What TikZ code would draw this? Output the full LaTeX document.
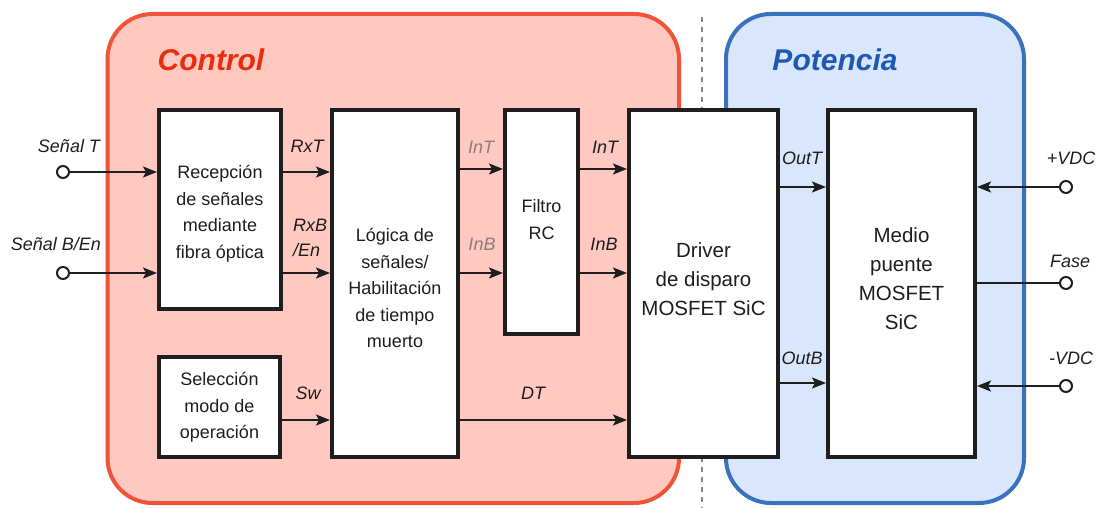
\documentclass[tikz,border=0pt]{standalone}
\usepackage{fontspec}
\setmainfont{Liberation Sans}
\usetikzlibrary{arrows.meta,calc}
\definecolor{ctrlfill}{HTML}{FFC9C2}
\definecolor{ctrldraw}{HTML}{EE5538}
\definecolor{ctrltext}{HTML}{E62E0A}
\definecolor{potfill}{HTML}{DAE6FC}
\definecolor{potdraw}{HTML}{3A72BF}
\definecolor{pottext}{HTML}{1D5BB3}
\definecolor{ink}{HTML}{1E1E1E}
\definecolor{dimtext}{HTML}{8A7E7C}
\definecolor{dashgray}{HTML}{858585}
\newcommand{\boxtext}[2]{\raisebox{#1}[0pt][0pt]{\begin{tabular}{@{}c@{}}#2\end{tabular}}}
\begin{document}
\begin{tikzpicture}[x=1pt,y=-1pt,
 blockbox/.style={draw=ink,fill=white,line width=4pt,inner sep=0pt,align=center,font=\fontsize{18}{26.5}\selectfont,text=ink},
 bigtext/.style={font=\fontsize{20.5}{29}\selectfont},
 sig/.style={font=\itshape\fontsize{18}{25}\selectfont,text=ink,inner sep=0pt},
 wire/.style={draw=ink,line width=2pt,-{Stealth[length=14pt,width=11pt,inset=3pt]}},
 plainwire/.style={draw=ink,line width=2pt},
 term/.style={circle,draw=ink,fill=white,line width=2pt,minimum size=12pt,inner sep=0pt},
 region/.style={line width=4pt,rounded corners=45pt},
 title/.style={font=\bfseries\itshape\fontsize{30}{32}\selectfont,inner sep=0pt}]

\useasboundingbox (0,0) rectangle (1097,508);

% regions
\draw[region,draw=ctrldraw,fill=ctrlfill] (107.5,14) rectangle (679,503);
\draw[region,draw=potdraw,fill=potfill] (726,14) rectangle (1024,503);
\draw[dashgray,line width=2.5pt,dash pattern=on 5pt off 5pt] (702,17) -- (702,508);

\node[title,text=ctrltext] (tctrl) at (211,60) {Control};
\node[title,text=pottext] (tpot) at (835,60) {Potencia};

% blocks
\node[blockbox,minimum width=122pt,minimum height=199pt] (rec) at (220,209.5) {\boxtext{-8pt}{Recepción\\de señales\\mediante\\fibra óptica}};
\node[blockbox,minimum width=121pt,minimum height=100pt] (sel) at (219.5,407) {\boxtext{-4.5pt}{Selección\\modo de\\operación}};
\node[blockbox,minimum width=126pt,minimum height=347pt] (log) at (395,283.5) {\boxtext{-10.5pt}{Lógica de\\señales/\\Habilitación\\de tiempo\\muerto}};
\node[blockbox,minimum width=73pt,minimum height=224pt] (fil) at (541.5,222) {\boxtext{-3pt}{Filtro\\RC}};
\node[blockbox,bigtext,minimum width=149pt,minimum height=347pt] (drv) at (703.5,283.5) {\boxtext{-2.1pt}{Driver\\de disparo\\MOSFET SiC}};
\node[blockbox,bigtext,minimum width=147pt,minimum height=347pt] (hb) at (901.5,283.5) {\boxtext{-1.6pt}{Medio\\puente\\MOSFET\\SiC}};

% terminals
\node[term] (tT) at (63,172) {};
\node[term] (tB) at (63,273) {};
\node[term] (tP) at (1066,187) {};
\node[term] (tF) at (1066,283) {};
\node[term] (tN) at (1066,386) {};

% signal levels
\coordinate (yIn) at (0,169);
\coordinate (yInB) at (0,273);
\coordinate (yD) at (0,420);
\coordinate (yOT) at (0,187);
\coordinate (yOB) at (0,383);

% connectors
\draw[wire] (tT) -- (tT -| rec.west);
\draw[wire] (tB) -- (tB -| rec.west);
\draw[wire] (tT -| rec.east) -- (tT -| log.west);
\draw[wire] (tB -| rec.east) -- (tB -| log.west);
\draw[wire] (yIn -| log.east) -- (yIn -| fil.west);
\draw[wire] (yInB -| log.east) -- (yInB -| fil.west);
\draw[wire] (yIn -| fil.east) -- (yIn -| drv.west);
\draw[wire] (yInB -| fil.east) -- (yInB -| drv.west);
\draw[wire] (yD -| sel.east) -- (yD -| log.west);
\draw[wire] (yD -| log.east) -- (yD -| drv.west);
\draw[wire] (yOT -| drv.east) -- (yOT -| hb.west);
\draw[wire] (yOB -| drv.east) -- (yOB -| hb.west);
\draw[wire] (tP) -- (tP -| hb.east);
\draw[plainwire] (tF -| hb.east) -- (tF);
\draw[wire] (tN) -- (tN -| hb.east);

% labels
\node[sig] (lT) at (69,146) {Señal T};
\node[sig] (lB) at (56,244) {Señal B/En};
\node[sig] (lRxT) at (307,146) {RxT};
\node[sig,align=left,anchor=north west] (lRxB) at (293,219) {RxB\\/En};
\node[sig,text=dimtext] (lInT1) at (481,147) {InT};
\node[sig,text=dimtext] (lInB1) at (482,244) {InB};
\node[sig] (lInT2) at (605,147) {InT};
\node[sig] (lInB2) at (604,244) {InB};
\node[sig] (lSw) at (308,393) {Sw};
\node[sig] (lDT) at (533,393) {DT};
\node[sig] (lOT) at (802,158) {OutT};
\node[sig] (lOB) at (802,358) {OutB};
\node[sig] (lP) at (1071,158) {+VDC};
\node[sig] (lF) at (1070,261) {Fase};
\node[sig] (lN) at (1071,358) {-VDC};
\end{tikzpicture}
\end{document}
